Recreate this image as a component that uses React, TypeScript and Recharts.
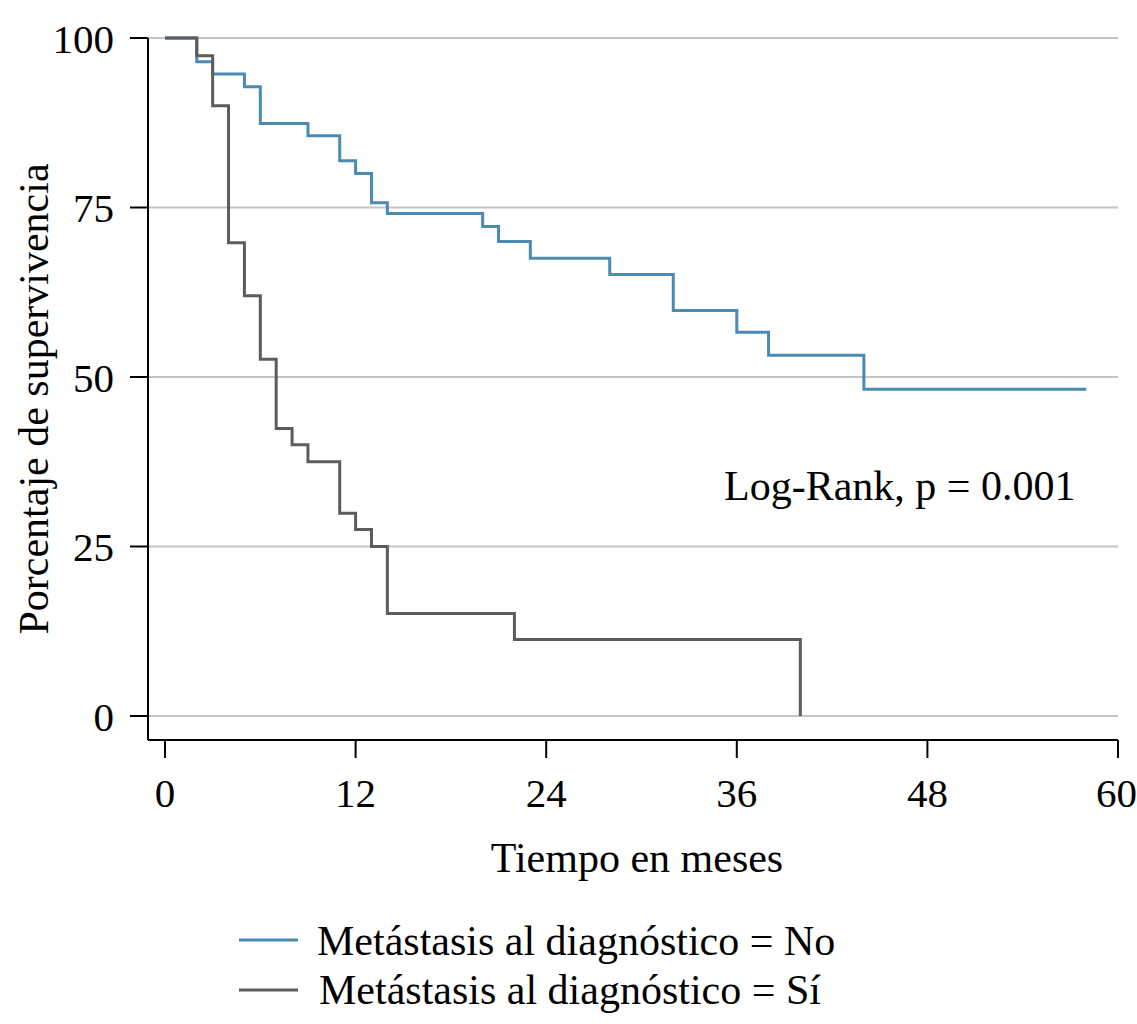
import React from "react";
import { LineChart, Line, XAxis, YAxis, CartesianGrid } from "recharts";

// survival curves (months, % surviving)
const noMetTimes = [0, 2, 3, 5, 6, 9, 11, 12, 13, 14, 20, 21, 23, 28, 32, 36, 38, 44, 58];
const noMetSurv = [100, 96.5, 94.7, 92.8, 87.4, 85.6, 81.9, 80.0, 75.7, 74.1, 72.2, 70.0, 67.5, 65.1, 59.8, 56.6, 53.2, 48.2, 48.2];

const metTimes = [0, 2, 3, 4, 5, 6, 7, 8, 9, 11, 12, 13, 14, 22, 40];
const metSurv = [100, 97.4, 90.0, 69.8, 62.0, 52.6, 42.4, 40.0, 37.5, 29.9, 27.5, 25.0, 15.1, 11.3, 0];

const xTicks = [0, 12, 24, 36, 48, 60];
const yTicks = [0, 25, 50, 75, 100];

const seriesNames = ["Metástasis al diagnóstico = No", "Metástasis al diagnóstico = Sí"];
const xLabel = "Tiempo en meses";
const yLabel = "Porcentaje de supervivencia";
const testLabel = "Log-Rank, p = 0.001";

const BLUE = "#4a8ab3";
const GRAY = "#5c5c5c";
const FONT = "'Liberation Serif', 'Times New Roman', serif";

if (typeof document !== "undefined") document.body.style.margin = "0";

const toRows = (times: number[], surv: number[]) => times.map((t, i) => ({ t, s: surv[i] }));

export default function App() {
  const noMet = toRows(noMetTimes, noMetSurv);
  const met = toRows(metTimes, metSurv);
  const tickStyle = { fill: "#000", fontSize: 41, fontFamily: FONT };

  return (
    <div style={{ position: "relative", width: 1137, height: 1024, background: "#fff" }}>
      <LineChart width={1137} height={1024} margin={{ top: 38, right: 19, left: 0, bottom: 0 }}>
        <CartesianGrid vertical={false} stroke="#c4c4c4" strokeWidth={2} />
        <XAxis
          dataKey="t"
          type="number"
          domain={[0, 60]}
          ticks={xTicks}
          height={284}
          padding={{ left: 17, right: 0 }}
          stroke="#000"
          strokeWidth={2}
          tickSize={18}
          tickMargin={20}
          tick={tickStyle}
          allowDataOverflow
        />
        <YAxis
          type="number"
          domain={[0, 100]}
          ticks={yTicks}
          width={148}
          padding={{ top: 0, bottom: 24 }}
          stroke="#000"
          strokeWidth={2}
          tickSize={18}
          tickMargin={16}
          tick={tickStyle}
        />
        <Line data={noMet} dataKey="s" type="stepAfter" stroke={BLUE} strokeWidth={3} dot={false} activeDot={false} isAnimationActive={false} />
        <Line data={met} dataKey="s" type="stepAfter" stroke={GRAY} strokeWidth={3} dot={false} activeDot={false} isAnimationActive={false} />
      </LineChart>

      {/* labels, annotation and legend drawn on top */}
      <svg width={1137} height={1024} style={{ position: "absolute", left: 0, top: 0, pointerEvents: "none" }}>
        <g fontFamily={FONT} fontSize={42} fill="#000">
          <text x={724} y={500}>{testLabel}</text>
          <text x={637} y={872} textAnchor="middle">{xLabel}</text>
          <text x={48} y={399} textAnchor="middle" transform="rotate(-90 48 399)">{yLabel}</text>
          <line x1={239} x2={298} y1={940} y2={940} stroke={BLUE} strokeWidth={3} />
          <text x={317} y={955}>{seriesNames[0]}</text>
          <line x1={239} x2={298} y1={990} y2={990} stroke={GRAY} strokeWidth={3} />
          <text x={319} y={1004}>{seriesNames[1]}</text>
        </g>
      </svg>
    </div>
  );
}
